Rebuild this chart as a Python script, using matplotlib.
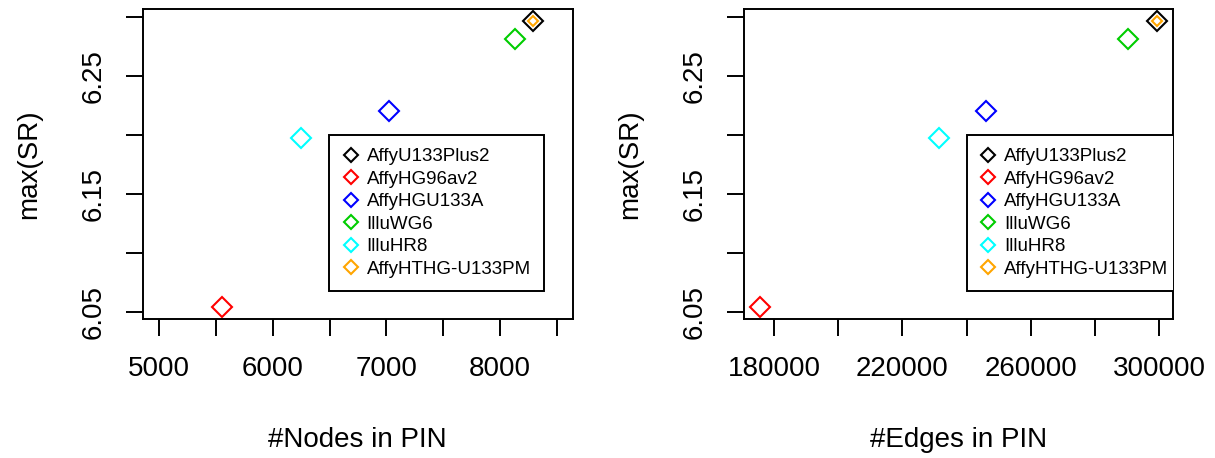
import numpy as np
import matplotlib
matplotlib.use('Agg')
import matplotlib.pyplot as plt
from matplotlib.lines import Line2D

plt.rcParams['font.family'] = ['Liberation Sans', 'DejaVu Sans']

# Dados
plataformas = ['AffyU133Plus2', 'AffyHG96av2', 'AffyHGU133A', 'IlluWG6', 'IlluHR8', 'AffyHTHG-U133PM']
cores = ['black', '#FF0000', '#0000FF', '#00CD00', '#00FFFF', '#FFA500']
nos = [8286, 5557, 7025, 8131, 6246, 8286]
arestas = [299173, 175640, 246017, 290330, 231381, 299173]
max_sr = [6.2965, 6.0537, 6.2204, 6.2815, 6.1972, 6.2965]

xticks_nos = np.arange(5000, 8501, 500)
xlabels_nos = ['5000', '', '6000', '', '7000', '', '8000', '']
xticks_arestas = np.arange(180000, 300001, 20000)
xlabels_arestas = ['180000', '', '220000', '', '260000', '', '300000']
yticks = [6.05, 6.10, 6.15, 6.20, 6.25, 6.30]
ylabels = ['6.05', '', '6.15', '', '6.25', '']

fig = plt.figure(figsize=(12.15, 4.58), dpi=100)
ax1 = fig.add_axes([0.1177, 0.3041, 0.3535, 0.6755])
ax2 = fig.add_axes([0.6123, 0.3041, 0.3535, 0.6755])

paineis = [
    (ax1, nos, xticks_nos, xlabels_nos, (4859, 8636), '#Nodes in PIN', 0.433),
    (ax2, arestas, xticks_arestas, xlabels_arestas, (170658, 304422), '#Edges in PIN', 0.5185),
]

for ax, xs, xt, xl, xlim, xlabel, leg_x in paineis:
    for i in range(len(plataformas)):
        ms = 5.6 if i == 5 else 9.8
        ax.plot(xs[i], max_sr[i], linestyle='none', marker='D', markersize=ms,
                markerfacecolor='none', markeredgecolor=cores[i], markeredgewidth=1.5)
    ax.set_xlim(*xlim)
    ax.set_ylim(6.0441, 6.3068)
    ax.set_xticks(xt)
    ax.set_xticklabels(xl)
    ax.set_yticks(yticks)
    ax.set_yticklabels(ylabels, rotation=90, va='center')
    ax.tick_params(axis='both', length=12.5, width=1.4, labelsize=20, pad=14)
    for s in ax.spines.values():
        s.set_linewidth(1.4)
    ax.set_xlabel(xlabel, fontsize=20)
    ax.xaxis.label.set_va('center')
    ax.xaxis.set_label_coords(0.5, -0.392)
    ax.set_ylabel('max(SR)', fontsize=20)
    ax.yaxis.label.set_va('center')
    ax.yaxis.set_label_coords(-0.2654, 0.5)

    handles = [Line2D([], [], linestyle='none', marker='D', markersize=7.2,
                      markerfacecolor='none', markeredgecolor=c, markeredgewidth=1.5)
               for c in cores]
    leg = ax.legend(handles, plataformas, loc='upper left', bbox_to_anchor=(leg_x, 0.594),
                    borderaxespad=0, fontsize=13.5, frameon=True, fancybox=False,
                    framealpha=1, edgecolor='black', handlelength=0.9, handletextpad=0.4,
                    labelspacing=0.29, borderpad=0.7)
    leg.get_frame().set_linewidth(1.4)
    leg.get_frame().set_clip_box(ax.bbox)
    leg.get_frame().set_clip_on(True)

plt.savefig('out.png', dpi=100)
